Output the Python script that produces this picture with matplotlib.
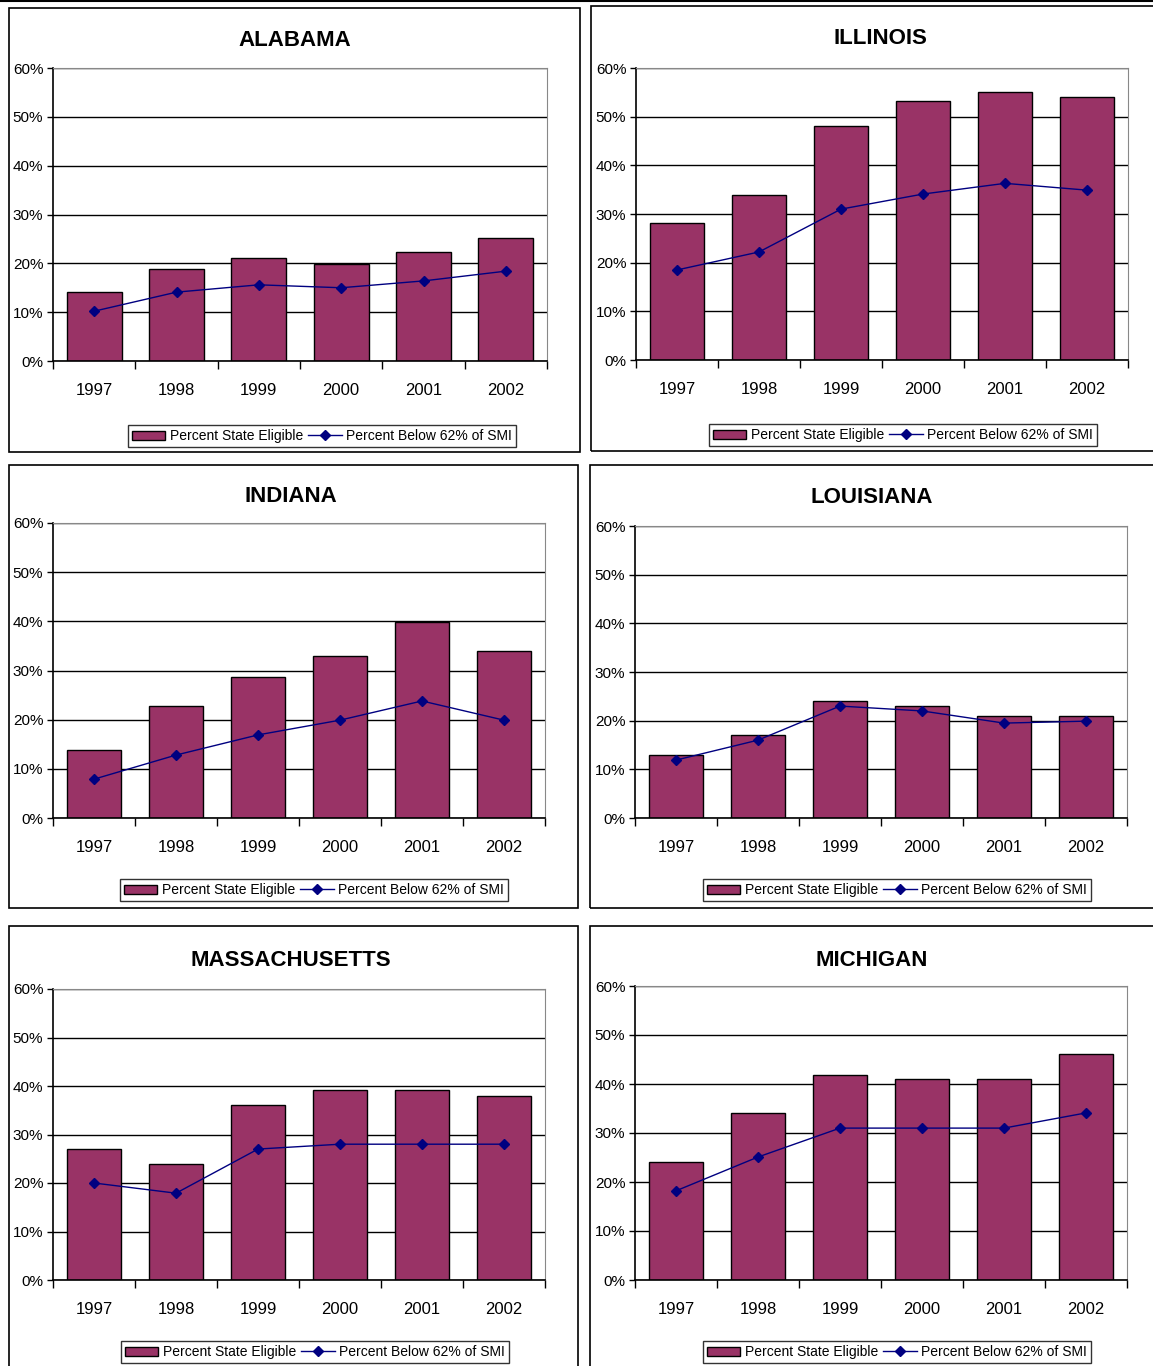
import matplotlib
matplotlib.use('Agg')
import matplotlib.pyplot as plt
from matplotlib.patches import Rectangle, Patch
from matplotlib.lines import Line2D

plt.rcParams['font.family'] = ['Liberation Sans Narrow', 'Liberation Sans', 'DejaVu Sans']

years = ['1997', '1998', '1999', '2000', '2001', '2002']
states = ['ALABAMA', 'ILLINOIS', 'INDIANA', 'LOUISIANA', 'MASSACHUSETTS', 'MICHIGAN']

# percent state eligible (bars)
alabama_eligible = [14.1, 18.9, 21.1, 19.9, 22.3, 25.2]
illinois_eligible = [28.1, 33.9, 48.0, 53.2, 55.0, 54.0]
indiana_eligible = [13.8, 22.8, 28.7, 32.9, 39.8, 33.9]
louisiana_eligible = [12.9, 17.0, 24.0, 23.0, 20.9, 20.9]
massachusetts_eligible = [27.0, 23.9, 36.1, 39.2, 39.2, 37.9]
michigan_eligible = [24.1, 34.1, 41.8, 41.0, 41.0, 46.1]

# percent below 62% of SMI (line)
alabama_smi = [10.2, 14.1, 15.6, 15.0, 16.4, 18.4]
illinois_smi = [18.5, 22.2, 31.0, 34.1, 36.3, 34.9]
indiana_smi = [7.9, 12.8, 16.9, 19.9, 23.8, 19.9]
louisiana_smi = [11.9, 16.0, 23.0, 22.0, 19.5, 19.9]
massachusetts_smi = [20.0, 17.9, 27.0, 28.0, 28.0, 28.0]
michigan_smi = [18.2, 25.1, 31.0, 31.0, 31.0, 34.1]

eligible = [alabama_eligible, illinois_eligible, indiana_eligible,
            louisiana_eligible, massachusetts_eligible, michigan_eligible]
below_smi = [alabama_smi, illinois_smi, indiana_smi,
             louisiana_smi, massachusetts_smi, michigan_smi]

W, H = 1153, 1366
BAR_COLOR = '#993366'
LINE_COLOR = '#000080'

# pixel layout: panel box (x0, y0, x1, y1), axes (left, top, right, bottom),
# title center (x, y), legend center (x, y)
layout = [
    ((9, 8, 580, 452), (53, 68, 547, 361), (295, 40), (322, 436)),
    ((591, 6, 1160, 451), (636, 68, 1128, 360), (880, 39), (903, 435)),
    ((9, 465, 578, 908), (53, 523, 545, 818), (291, 497), (314, 890)),
    ((590, 465, 1160, 908), (635, 526, 1127, 818), (872, 498), (897, 890)),
    ((9, 926, 578, 1372), (53, 989, 545, 1280), (291, 960), (315, 1352)),
    ((590, 926, 1160, 1372), (635, 986, 1127, 1280), (872, 960), (897, 1352)),
]

fig = plt.figure(figsize=(W / 100, H / 100), dpi=100)


def fx(x):
    return x / W


def fy(y):
    return 1 - y / H


# page rule along the top edge
fig.lines.append(Line2D([0, 1], [fy(0.8), fy(0.8)], transform=fig.transFigure,
                        color='black', linewidth=1.5))

for i, state in enumerate(states):
    box, axr, title_pos, leg_pos = layout[i]
    fig.patches.append(Rectangle((fx(box[0]), fy(box[3])), fx(box[2] - box[0]),
                                 (box[3] - box[1]) / H, transform=fig.transFigure,
                                 fill=False, edgecolor='black', linewidth=1.2))
    left, top, right, bottom = axr
    ax = fig.add_axes([fx(left), fy(bottom), fx(right - left), (bottom - top) / H])

    x = range(len(years))
    ax.bar(x, eligible[i], width=0.67, color=BAR_COLOR, edgecolor='black',
           linewidth=1, zorder=2)
    ax.plot(x, below_smi[i], color=LINE_COLOR, linewidth=1, marker='D',
            markersize=5.5, zorder=3)

    ax.set_xlim(-0.5, 5.5)
    ax.set_ylim(0, 60)
    ax.set_yticks(range(0, 61, 10))
    ax.set_yticklabels(['{}%'.format(v) for v in range(0, 61, 10)], fontsize=11)
    ax.set_xticks(list(x))
    ax.set_xticklabels(years, fontsize=12)
    ax.set_xticks([v - 0.5 for v in range(7)], minor=True)
    ax.tick_params(axis='x', which='major', length=0, pad=16)
    ax.tick_params(axis='x', which='minor', length=6, direction='out', width=1)
    ax.tick_params(axis='y', length=4, direction='out', pad=3, width=1)
    ax.grid(axis='y', color='black', linewidth=1, zorder=0)
    ax.set_axisbelow(True)
    for side in ['top', 'right']:
        ax.spines[side].set_color('#888888')
    ax.spines['left'].set_linewidth(1.2)
    ax.spines['bottom'].set_linewidth(1.2)

    fig.text(fx(title_pos[0]), fy(title_pos[1]), state, fontsize=16,
             fontweight='bold', ha='center', va='center')

    handles = [Patch(facecolor=BAR_COLOR, edgecolor='black', linewidth=1),
               Line2D([], [], color=LINE_COLOR, linewidth=1, marker='D', markersize=5)]
    fig.legend(handles, ['Percent State Eligible', 'Percent Below 62% of SMI'],
               loc='center', bbox_to_anchor=(fx(leg_pos[0]), fy(leg_pos[1])),
               ncol=2, fontsize=10, frameon=True, fancybox=False, edgecolor='black',
               handlelength=2.4, handleheight=0.6, handletextpad=0.3,
               columnspacing=0.4, borderpad=0.3, borderaxespad=0)

fig.savefig('out.png', dpi=100)
